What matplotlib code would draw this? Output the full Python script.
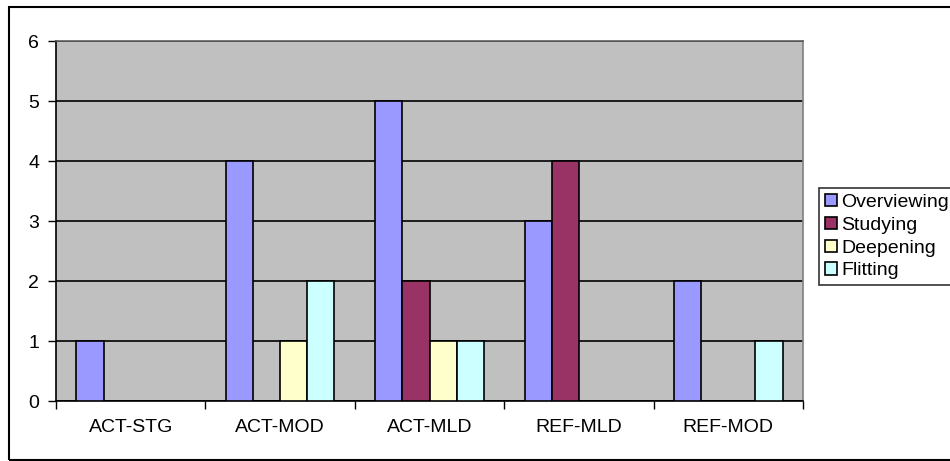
import matplotlib.pyplot as plt
import numpy as np
from matplotlib.patches import Rectangle

categories = ['ACT-STG', 'ACT-MOD', 'ACT-MLD', 'REF-MLD', 'REF-MOD']
overviewing = [1, 4, 5, 3, 2]
studying = [0, 0, 2, 4, 0]
deepening = [0, 1, 1, 0, 0]
flitting = [0, 2, 1, 0, 1]

series = [('Overviewing', overviewing, '#9999FF'),
          ('Studying', studying, '#993366'),
          ('Deepening', deepening, '#FFFFCC'),
          ('Flitting', flitting, '#CCFFFF')]

plt.rcParams['font.family'] = 'Liberation Sans'

fig = plt.figure(figsize=(9.5, 4.61), dpi=100)
ax = fig.add_axes([56/950, 1 - 401/461, (803 - 56)/950, (401 - 41)/461])
ax.set_facecolor('#C0C0C0')

x = np.arange(len(categories))
w = 1 / 5.5
for i, (name, vals, col) in enumerate(series):
    ax.bar(x + (i - 1.5) * w, vals, w, color=col, edgecolor='black',
           linewidth=1.2, label=name, zorder=3)

ax.set_xlim(-0.5, len(categories) - 0.5)
ax.set_ylim(0, 6)
ax.set_yticks(range(7))
ax.yaxis.grid(True, color='black', linewidth=1.2, zorder=1)
ax.set_axisbelow(True)

ax.set_xticks(x)
ax.set_xticklabels(categories, fontsize=14)
ax.set_xticks(np.arange(-0.5, len(categories)), minor=True)
ax.tick_params(axis='x', which='major', length=0, pad=13)
ax.tick_params(axis='x', which='minor', length=6, width=1, direction='out')
ax.tick_params(axis='y', length=6, width=1, labelsize=14, pad=6)

ax.spines['left'].set_color('black')
ax.spines['bottom'].set_color('black')
ax.spines['top'].set_color('#606060')
ax.spines['right'].set_color('#808080')
for s in ax.spines.values():
    s.set_linewidth(1.2)

leg = fig.legend(loc='upper left', bbox_to_anchor=(819/950, 1 - 188/461),
                 fontsize=14, frameon=True, fancybox=False, edgecolor='black',
                 handlelength=0.6, handleheight=0.6, handletextpad=0.25,
                 labelspacing=0.3, borderpad=0.3, borderaxespad=0)
leg.get_frame().set_linewidth(1.2)

fig.patches.append(Rectangle((9/950, 1/461), 945/950, 453/461, transform=fig.transFigure,
                             fill=False, edgecolor='black', linewidth=1.5))

fig.savefig('out.png', dpi=100)
